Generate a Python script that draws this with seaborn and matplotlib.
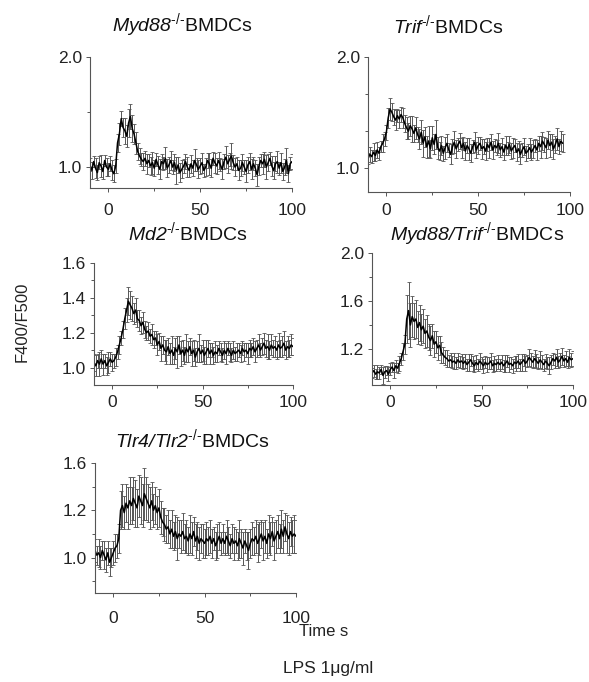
# -*- coding: utf-8 -*-
# Calcium ratio traces (F400/F500) of BMDCs stimulated with LPS

# %% libraries
import numpy as np
import pandas as pd
import matplotlib
matplotlib.use('Agg')
import matplotlib.pyplot as plt
import seaborn as sns

# %% data (one value per second)
time = np.arange(-10, 101)
time_trif = np.arange(-10, 97)

myd88 = [1.02, 0.97, 1.05, 0.99, 0.95, 1.04, 1.01, 0.96, 1.06, 1.00,
         0.98, 1.03, 0.97, 0.94, 1.01, 1.22, 1.30, 1.44, 1.36, 1.33,
         1.28, 1.40, 1.46, 1.35, 1.30, 1.22, 1.14, 1.10, 1.07, 1.05,
         1.08, 1.03, 1.06, 1.01, 1.04, 0.99, 1.07, 1.02, 0.98, 1.05,
         1.03, 1.08, 0.99, 1.02, 1.06, 1.00, 1.04, 0.97, 1.02, 0.95,
         0.98, 1.01, 1.05, 1.00, 0.97, 1.03, 0.99, 1.06, 1.02, 0.98,
         1.01, 1.04, 0.97, 1.00, 1.06, 1.03, 0.99, 1.08, 1.04, 1.01,
         1.06, 1.02, 0.98, 1.05, 1.09, 1.03, 1.07, 1.10, 1.04, 1.00,
         1.03, 0.97, 0.99, 1.04, 1.00, 0.96, 1.02, 1.05, 0.98, 1.03,
         0.99, 0.93, 1.01, 1.06, 1.03, 1.07, 1.00, 1.04, 1.08, 1.01,
         0.97, 1.03, 1.05, 0.99, 1.04, 0.96, 1.00, 1.06, 0.94, 1.03,
         1.05]
myd88_err = [6, 8, 5, 9, 7, 6, 10, 7, 5, 8,
             6, 7, 9, 8, 6, 8, 10, 7, 9, 12,
             10, 13, 11, 12, 9, 10, 8, 7, 6, 8,
             7, 9, 6, 8, 10, 7, 6, 8, 9, 7,
             6, 10, 8, 7, 9, 6, 8, 12, 7, 9,
             8, 6, 7, 9, 6, 8, 7, 10, 6, 8,
             7, 9, 6, 8, 7, 10, 8, 6, 9, 7,
             8, 6, 9, 7, 10, 8, 6, 12, 7, 8,
             6, 9, 7, 8, 6, 10, 7, 8, 9, 6,
             7, 10, 8, 6, 9, 7, 11, 8, 6, 9,
             8, 7, 10, 6, 9, 8, 7, 11, 8, 6,
             7]

trif = [1.08, 1.12, 1.10, 1.14, 1.11, 1.16, 1.13, 1.19, 1.22, 1.26,
        1.32, 1.45, 1.53, 1.50, 1.46, 1.43, 1.47, 1.44, 1.48, 1.45,
        1.40, 1.36, 1.33, 1.38, 1.35, 1.31, 1.36, 1.30, 1.26, 1.32,
        1.22, 1.28, 1.19, 1.24, 1.17, 1.27, 1.21, 1.30, 1.18, 1.15,
        1.20, 1.13, 1.18, 1.22, 1.16, 1.12, 1.19, 1.23, 1.17, 1.21,
        1.24, 1.18, 1.22, 1.15, 1.20, 1.17, 1.13, 1.19, 1.23, 1.16,
        1.20, 1.22, 1.17, 1.19, 1.15, 1.21, 1.18, 1.23, 1.16, 1.20,
        1.18, 1.22, 1.16, 1.19, 1.14, 1.20, 1.17, 1.21, 1.15, 1.18,
        1.20, 1.14, 1.17, 1.12, 1.16, 1.19, 1.13, 1.15, 1.18, 1.14,
        1.17, 1.20, 1.16, 1.22, 1.19, 1.24, 1.21, 1.18, 1.25, 1.20,
        1.23, 1.17, 1.21, 1.26, 1.19, 1.24, 1.22]
trif_err = [5, 7, 6, 8, 5, 7, 6, 5, 8, 6,
            7, 9, 10, 8, 7, 9, 6, 8, 7, 9,
            8, 10, 7, 9, 12, 8, 10, 7, 9, 11,
            12, 9, 10, 14, 8, 11, 9, 13, 10, 8,
            9, 7, 10, 8, 6, 9, 7, 10, 8, 6,
            7, 9, 6, 8, 7, 10, 8, 6, 9, 7,
            8, 6, 9, 7, 8, 6, 9, 7, 8, 6,
            7, 9, 6, 8, 7, 9, 6, 8, 7, 9,
            6, 8, 7, 9, 6, 8, 7, 6, 9, 7,
            8, 6, 9, 7, 10, 8, 7, 9, 8, 10,
            7, 9, 8, 10, 7, 9, 8]

md2 = [1.03, 1.01, 1.04, 1.02, 1.05, 1.02, 1.04, 1.01, 1.03, 1.05,
       1.03, 1.04, 1.06, 1.09, 1.13, 1.17, 1.22, 1.28, 1.33, 1.38,
       1.36, 1.34, 1.31, 1.33, 1.28, 1.27, 1.24, 1.26, 1.22, 1.20,
       1.21, 1.18, 1.19, 1.16, 1.17, 1.13, 1.15, 1.11, 1.13, 1.10,
       1.09, 1.12, 1.08, 1.10, 1.07, 1.11, 1.09, 1.13, 1.08, 1.10,
       1.07, 1.11, 1.09, 1.12, 1.08, 1.10, 1.06, 1.09, 1.11, 1.08,
       1.10, 1.07, 1.09, 1.11, 1.08, 1.10, 1.07, 1.09, 1.08, 1.11,
       1.09, 1.07, 1.10, 1.08, 1.11, 1.09, 1.07, 1.10, 1.08, 1.09,
       1.10, 1.08, 1.11, 1.09, 1.10, 1.08, 1.11, 1.10, 1.12, 1.09,
       1.11, 1.13, 1.10, 1.12, 1.14, 1.11, 1.12, 1.10, 1.13, 1.11,
       1.12, 1.10, 1.13, 1.11, 1.12, 1.14, 1.10, 1.12, 1.11, 1.13,
       1.12]
md2_err = [5, 6, 4, 7, 5, 6, 4, 5, 6, 4,
           5, 4, 5, 4, 5, 4, 5, 6, 7, 8,
           8, 7, 6, 7, 5, 6, 5, 6, 5, 4,
           5, 4, 6, 5, 4, 6, 5, 7, 5, 6,
           7, 5, 6, 8, 5, 6, 9, 5, 7, 6,
           5, 8, 6, 5, 7, 6, 5, 6, 8, 5,
           6, 5, 7, 5, 6, 4, 5, 6, 5, 4,
           5, 4, 5, 6, 4, 5, 4, 5, 4, 5,
           4, 5, 4, 5, 4, 6, 5, 4, 5, 6,
           5, 6, 4, 5, 6, 5, 7, 5, 6, 5,
           6, 5, 7, 5, 6, 7, 5, 6, 5, 6,
           5]

myd88_trif = [1.00, 1.02, 0.99, 1.01, 1.00, 1.03, 0.98, 1.01, 1.02, 0.99,
              1.03, 1.05, 1.02, 1.06, 1.04, 1.08, 1.12, 1.18, 1.24, 1.45,
              1.52, 1.40, 1.47, 1.43, 1.45, 1.38, 1.42, 1.36, 1.39, 1.33,
              1.35, 1.30, 1.27, 1.31, 1.24, 1.26, 1.21, 1.23, 1.17, 1.15,
              1.13, 1.12, 1.10, 1.11, 1.09, 1.10, 1.08, 1.11, 1.09, 1.10,
              1.08, 1.10, 1.07, 1.09, 1.11, 1.08, 1.06, 1.09, 1.07, 1.10,
              1.08, 1.06, 1.09, 1.07, 1.08, 1.10, 1.06, 1.08, 1.07, 1.09,
              1.07, 1.09, 1.06, 1.08, 1.10, 1.07, 1.08, 1.06, 1.09, 1.08,
              1.10, 1.07, 1.09, 1.11, 1.08, 1.10, 1.13, 1.11, 1.09, 1.12,
              1.10, 1.08, 1.11, 1.09, 1.07, 1.10, 1.08, 1.06, 1.09, 1.12,
              1.10, 1.13, 1.09, 1.11, 1.14, 1.10, 1.12, 1.09, 1.13, 1.11,
              1.12]
myd88_trif_err = [4, 5, 4, 6, 5, 4, 7, 5, 4, 6,
                  5, 4, 6, 5, 4, 6, 5, 7, 8, 20,
                  24, 18, 17, 15, 16, 14, 15, 13, 14, 12,
                  13, 11, 12, 10, 11, 9, 10, 8, 9, 7,
                  6, 7, 5, 6, 5, 7, 5, 6, 5, 6,
                  5, 6, 5, 7, 5, 6, 5, 6, 5, 7,
                  5, 6, 5, 6, 5, 7, 5, 6, 5, 6,
                  5, 6, 5, 7, 5, 6, 5, 6, 5, 6,
                  6, 5, 7, 5, 6, 5, 7, 6, 5, 7,
                  6, 5, 7, 6, 5, 6, 5, 7, 6, 5,
                  6, 7, 5, 6, 7, 5, 6, 5, 7, 6,
                  6]

tlr4_tlr2 = [1.03, 1.01, 1.02, 1.00, 1.03, 1.01, 0.99, 1.02, 0.98, 1.00,
             1.02, 1.04, 1.05, 1.08, 1.20, 1.22, 1.19, 1.23, 1.21, 1.24,
             1.22, 1.25, 1.23, 1.21, 1.26, 1.24, 1.22, 1.27, 1.25, 1.23,
             1.21, 1.24, 1.20, 1.22, 1.19, 1.21, 1.17, 1.15, 1.14, 1.12,
             1.13, 1.10, 1.12, 1.09, 1.11, 1.08, 1.10, 1.09, 1.11, 1.08,
             1.09, 1.07, 1.10, 1.08, 1.11, 1.07, 1.09, 1.06, 1.08, 1.07,
             1.06, 1.08, 1.07, 1.09, 1.06, 1.08, 1.05, 1.07, 1.09, 1.06,
             1.08, 1.06, 1.09, 1.07, 1.05, 1.08, 1.06, 1.07, 1.05, 1.08,
             1.06, 1.04, 1.07, 1.05, 1.03, 1.06, 1.08, 1.07, 1.09, 1.06,
             1.08, 1.10, 1.07, 1.09, 1.06, 1.10, 1.08, 1.11, 1.07, 1.09,
             1.11, 1.08, 1.12, 1.09, 1.13, 1.10, 1.08, 1.11, 1.09, 1.10,
             1.09]
tlr4_tlr2_err = [5, 4, 6, 5, 4, 6, 5, 5, 6, 4,
                 5, 6, 5, 6, 8, 9, 7, 8, 9, 10,
                 8, 9, 10, 8, 9, 10, 9, 11, 9, 8,
                 9, 8, 7, 8, 7, 8, 7, 6, 7, 6,
                 7, 6, 8, 6, 7, 9, 6, 7, 8, 6,
                 7, 6, 8, 7, 6, 7, 6, 7, 6, 7,
                 6, 7, 6, 7, 6, 5, 6, 7, 6, 5,
                 6, 5, 7, 6, 5, 6, 7, 5, 6, 8,
                 6, 7, 5, 6, 8, 6, 7, 6, 7, 8,
                 7, 6, 8, 7, 6, 8, 7, 6, 8, 7,
                 7, 6, 8, 7, 6, 8, 7, 6, 7, 8,
                 7]

# %% style
sns.set_style('ticks')
plt.rcParams['font.family'] = ['Liberation Sans', 'DejaVu Sans']
plt.rcParams['mathtext.fontset'] = 'custom'
plt.rcParams['mathtext.rm'] = 'Liberation Sans'
plt.rcParams['mathtext.sf'] = 'Liberation Sans:italic'
plt.rcParams['mathtext.default'] = 'regular'

W, H = 589, 682
fig = plt.figure(figsize=(W / 100, H / 100), dpi=100)


def px_rect(left, top, right, bottom):
    return [left / W, 1 - bottom / H, (right - left) / W, (bottom - top) / H]


def gene_title(name):
    # italic gene name, small -/- superscript, upright cell type
    return (r'$\mathsf{' + name + r'}^{\mathrm{' + '\u2010/\u2010'
            + r'}}$BMDCs')


panels = [
    dict(title=gene_title('Myd88'), t=time, y=myd88, e=myd88_err,
         rect=px_rect(90, 57, 292, 188), ylim=(0.81, 2.0),
         major=[1.0, 2.0], labels=['1.0', '2.0'], minor=[1.5],
         xpad=8, tpos=(182, 25)),
    dict(title=gene_title('Trif'), t=time_trif, y=trif, e=trif_err,
         rect=px_rect(368, 57, 570, 192), ylim=(0.78, 2.0),
         major=[1.0, 2.0], labels=['1.0', '2.0'], minor=[4 / 3, 5 / 3],
         xpad=5, tpos=(448, 25)),
    dict(title=gene_title('Md2'), t=time, y=md2, e=md2_err,
         rect=px_rect(94, 263, 293, 385), ylim=(0.9, 1.6),
         major=[1.0, 1.2, 1.4, 1.6], labels=['1.0', '1.2', '1.4', '1.6'],
         minor=[1.1, 1.3, 1.5], xpad=4, tpos=(188, 232)),
    dict(title=gene_title('Myd88/Trif'), t=time, y=myd88_trif,
         e=myd88_trif_err,
         rect=px_rect(372, 253, 573, 385), ylim=(0.9, 2.0),
         major=[1.2, 1.6, 2.0], labels=['1.2', '1.6', '2.0'],
         minor=[1.4, 1.8], xpad=4, tpos=(477, 234)),
    dict(title=gene_title('Tlr4/Tlr2'), t=time, y=tlr4_tlr2,
         e=tlr4_tlr2_err,
         rect=px_rect(95, 463, 296, 593), ylim=(0.85, 1.4),
         major=[1.0, 1.2, 1.4], labels=['1.0', '1.2', '1.6'],
         minor=[0.9, 1.1, 1.3], xpad=10, tpos=(192, 439)),
]

axis_col = '#555555'

for p in panels:
    ax = fig.add_axes(p['rect'])
    df = pd.DataFrame({'t': p['t'], 'ratio': p['y'],
                       'err': np.array(p['e']) / 100})

    # error bars
    ax.errorbar(df['t'], df['ratio'], yerr=df['err'], fmt='none',
                ecolor='#555555', elinewidth=0.7, capsize=1.2,
                capthick=0.6, zorder=1)
    # mean trace
    sns.lineplot(data=df, x='t', y='ratio', ax=ax, color='black',
                 lw=1.1, zorder=2)

    ax.set_xlim(-10, 100)
    ax.set_ylim(*p['ylim'])
    ax.set_xticks([0, 50, 100])
    ax.set_xticks([25, 75], minor=True)
    ax.set_yticks(p['major'])
    ax.set_yticklabels(p['labels'])
    ax.set_yticks(p['minor'], minor=True)
    ax.set_xlabel('')
    ax.set_ylabel('')

    sns.despine(ax=ax)
    for s in ['left', 'bottom']:
        ax.spines[s].set_color(axis_col)
        ax.spines[s].set_linewidth(0.8)
    ax.tick_params(which='major', length=3, width=0.7, color=axis_col,
                   labelsize=12.5, labelcolor='#222222', pad=2.5)
    ax.tick_params(which='minor', length=2, width=0.7, color=axis_col)
    ax.tick_params(axis='x', which='major', pad=p['xpad'])

    fig.text(p['tpos'][0] / W, 1 - p['tpos'][1] / H, p['title'],
             ha='center', va='center', fontsize=14, color='#111111')

# shared labels
fig.text(22 / W, 1 - 322 / H, 'F400/F500', rotation=90, ha='center',
         va='center', fontsize=12, color='#222222')
fig.text(324 / W, 1 - 631 / H, 'Time s', ha='center', va='center',
         fontsize=12, color='#222222')
fig.text(328 / W, 1 - 668 / H, 'LPS 1\u03bcg/ml', ha='center', va='center',
         fontsize=12.5, color='#222222')

# %% save
fig.savefig('out.png', dpi=100)
